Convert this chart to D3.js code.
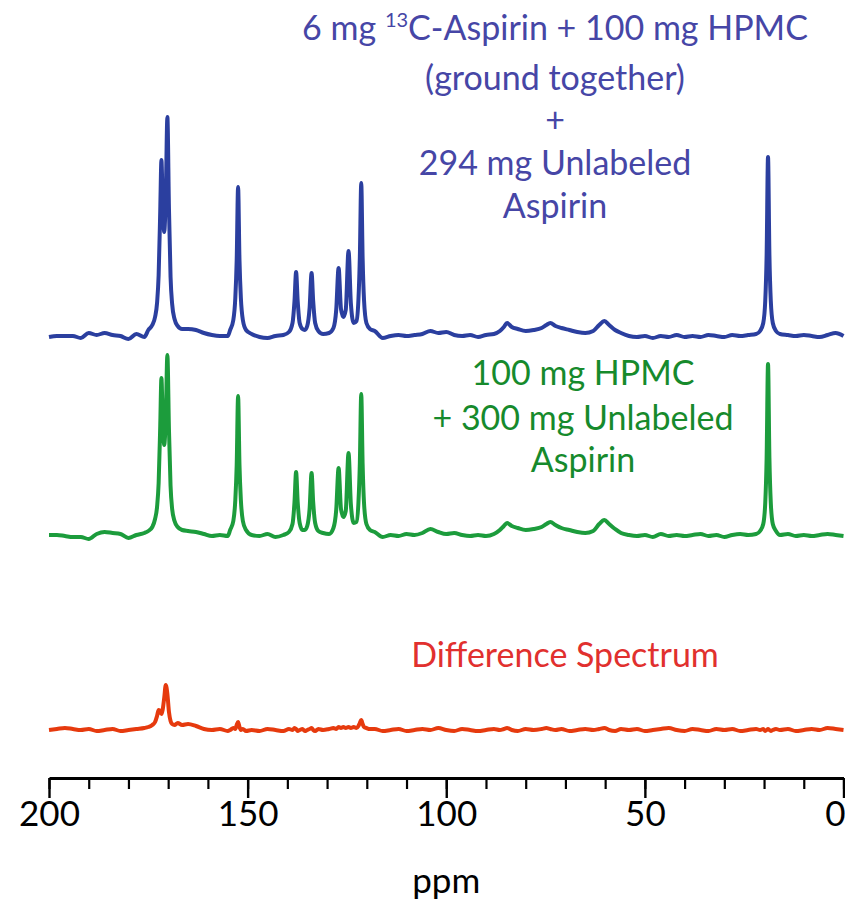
<html>
    <head>
        <title>13C NMR - Aspirin / HPMC</title>
        <script src="https://d3js.org/d3.v7.min.js"></script>
        <style>
            body { margin: 0; background-color: #fff; }
            text { font-family: Lato, "Open Sans", sans-serif; }
        </style>
    </head>
    <body>
        <div id="chart"></div>
    </body>
    <script>
        // chemical shift grid (ppm, descending) shared by the three spectra
        var ppm = [
            200,198,196,194,192,190,188,186,184,182,180,178,176,
            175,174,173.3,172.8,172.4,172.0,171.7,171.4,171.0,170.6,170.2,169.8,169.4,169.0,168.4,167.6,166.5,
            165,163,161,159,157,155,
            154.4,153.6,153.1,152.75,152.4,152.05,151.7,151.2,150.4,
            149,147,145,143,141,139.6,
            138.7,138.2,137.8,137.4,136.9,136.2,135.6,135.0,134.4,133.9,133.5,133.0,132.2,
            131,129.5,128.4,
            127.7,127.1,126.5,125.9,125.3,124.6,124.0,123.3,122.6,122.1,121.75,121.4,121.05,120.7,120.1,119.2,
            118,116,114,112,110,108,106,104,102,100,98,96,94,92,90,
            88,86.5,85.5,84.7,83.5,82,80,78,76,74.8,73.8,72.5,71,69,67,65,63,61.5,60.2,59,57.5,56,
            54,52,50,48,46,44,42,40,38,36,34,32,30,28,26,24,22,
            21,20.2,19.7,19.35,19.0,18.65,18.3,17.8,17.0,
            16,14,12,10,8,6,4,2,0
        ];

        // 6 mg 13C-aspirin + 100 mg HPMC (ground together) + 294 mg unlabeled aspirin
        var labeled = [
            -2,-1,-1,-1,-3,2,0,2,0,-1,-4,1,-2,
            5,10,18,32,60,124,175,136,103,140,218,126,58,31,16,9,6,
            6,5,2,0,-1,-1,
            5,15,37,75,148,75,37,15,5,
            1,-2,-3,-1,0,3,
            12,34,63,34,12,6,5,9,27,62,34,12,4,
            1,2,7,
            25,67,26,18,25,84,31,12,14,36,78,152,77,35,12,6,
            4,-3,-1,0,-1,0,1,4,2,3,0,-1,0,-2,0,
            1,4,8,12,8,6,4,5,7,10,12,9,7,5,3,2,4,10,14,10,5,2,
            -1,-2,-1,-3,-1,-2,0,-2,-1,-2,0,-1,-2,0,-1,0,1,
            4,12,34,80,178,80,34,12,4,
            1,0,-1,0,-1,-2,0,2,-1
        ];

        // 100 mg HPMC + 300 mg unlabeled aspirin
        var unlabeled = [
            0,0,-1,-2,-2,-4,1,3,2,1,-3,0,2,
            4,8,16,28,52,109,157,120,90,118,180,105,49,26,14,8,5,
            4,3,1,-1,0,-1,
            5,14,35,70,139,70,35,14,5,
            0,-1,1,-2,0,3,
            11,33,63,33,12,5,5,9,26,62,33,12,4,
            2,1,7,
            25,67,26,18,24,82,30,12,13,33,72,141,71,32,11,5,
            3,-2,0,-1,1,0,2,6,3,1,2,0,-1,0,-1,
            1,5,9,12,9,7,5,6,8,11,13,10,7,5,3,2,4,11,15,11,6,2,
            0,-1,0,-2,1,-1,0,-1,0,1,-1,0,-2,0,1,0,1,
            4,11,32,77,171,77,32,11,4,
            0,1,-1,0,-1,0,1,0,-1
        ];

        // difference spectrum
        var difference = [
            0,1,2,1,0,1,-1,0,1,-1,0,1,2,
            3,5,8,14,20,19,16,20,32,45,36,18,9,6,5,7,5,
            6,4,1,0,1,-1,
            0,2,1,5,8,3,0,1,-1,
            0,-1,1,0,-1,1,
            0,2,1,-1,0,1,-1,0,1,2,0,-1,1,
            0,1,2,
            1,3,2,3,2,3,2,3,2,4,7,10,6,3,2,1,
            1,-1,0,1,-1,0,1,0,2,0,-1,1,0,-1,0,
            1,0,1,2,0,-1,1,0,1,2,1,0,1,-1,0,1,0,1,2,0,-1,1,
            0,1,-1,0,1,2,0,-1,1,0,-1,1,0,1,-1,0,1,
            0,1,-1,0,1,0,-1,0,1,
            0,1,-1,0,1,0,2,1,0
        ];

        var majorTicks = [200, 150, 100, 50, 0];
        var minorTicks = d3.range(200, -1, -10);

        var labeledText = ["6 mg ^13^C-Aspirin + 100 mg HPMC", "(ground together)", "+", "294 mg Unlabeled", "Aspirin"];
        var unlabeledText = ["100 mg HPMC", "+ 300 mg Unlabeled", "Aspirin"];
        var differenceText = ["Difference Spectrum"];

        var width = 845, height = 905;

        var svg = d3.select("#chart")
            .append("svg")
            .attr("width", width)
            .attr("height", height);

        var x = d3.scaleLinear()
            .domain([200, 0])
            .range([49, 843.5]);

        var spectra = [
            {values: labeled, base: 335, line: "#2b3f9f", text: "#4646a6", label: labeledText, lx: 555, ly: [40, 90, 132, 175, 218]},
            {values: unlabeled, base: 535, line: "#1c9c3c", text: "#168a2c", label: unlabeledText, lx: 583, ly: [385, 430, 472]},
            {values: difference, base: 730, line: "#e63a0e", text: "#e1302e", label: differenceText, lx: 565, ly: [667]}
        ];

        spectra.forEach(function(s) {
            var y = d3.scaleLinear()
                .domain([0, 220])
                .range([s.base, s.base - 220]);

            var pts = ppm.map(function(p, i) { return [p, s.values[i]]; });

            svg.append("path")
                .datum(pts)
                .attr("fill", "none")
                .attr("stroke", s.line)
                .attr("stroke-width", 4)
                .attr("stroke-linejoin", "round")
                .attr("d", d3.line()
                    .x(function(d) { return x(d[0]); })
                    .y(function(d) { return y(d[1]); })
                    .curve(d3.curveMonotoneX));

            // labels, ^..^ marks a superscript
            s.label.forEach(function(line, i) {
                var t = svg.append("text")
                    .attr("x", s.lx)
                    .attr("y", s.ly[i])
                    .attr("text-anchor", "middle")
                    .attr("font-size", 34)
                    .attr("fill", s.text);
                line.split("^").forEach(function(part, j) {
                    if (part === "") return;
                    if (j % 2 == 1) {
                        t.append("tspan").attr("font-size", 20).attr("dy", -13).text(part);
                    } else {
                        t.append("tspan").attr("dy", j > 0 ? 13 : 0).text(part);
                    }
                });
            });
        });

        // ppm axis
        var axisY = 778;
        svg.append("g")
            .attr("transform", "translate(0," + axisY + ")")
            .call(d3.axisBottom(x).tickValues(minorTicks).tickSize(11).tickFormat(""))
            .call(function(g) {
                g.select(".domain").remove();
                g.selectAll("line").attr("stroke", "#000").attr("stroke-width", 2.2);
            });

        var ax = svg.append("g")
            .attr("transform", "translate(0," + axisY + ")")
            .call(d3.axisBottom(x).tickValues(majorTicks).tickSize(20).tickSizeOuter(0).tickPadding(3).tickFormat(d3.format("d")));
        ax.select(".domain").attr("stroke", "#000").attr("stroke-width", 3.2);
        ax.selectAll("line").attr("stroke", "#000").attr("stroke-width", 2.4);
        ax.selectAll("text")
            .attr("font-size", 35)
            .attr("fill", "#000")
            .style("font-family", "Lato, sans-serif");
        // the last label sits against the right edge
        ax.selectAll(".tick text")
            .filter(function(d) { return d === 0; })
            .attr("text-anchor", "end")
            .attr("x", 845 - x(0));

        svg.append("text")
            .attr("x", x(100))
            .attr("y", 893)
            .attr("text-anchor", "middle")
            .attr("font-size", 35)
            .text("ppm");
    </script>
</html>
